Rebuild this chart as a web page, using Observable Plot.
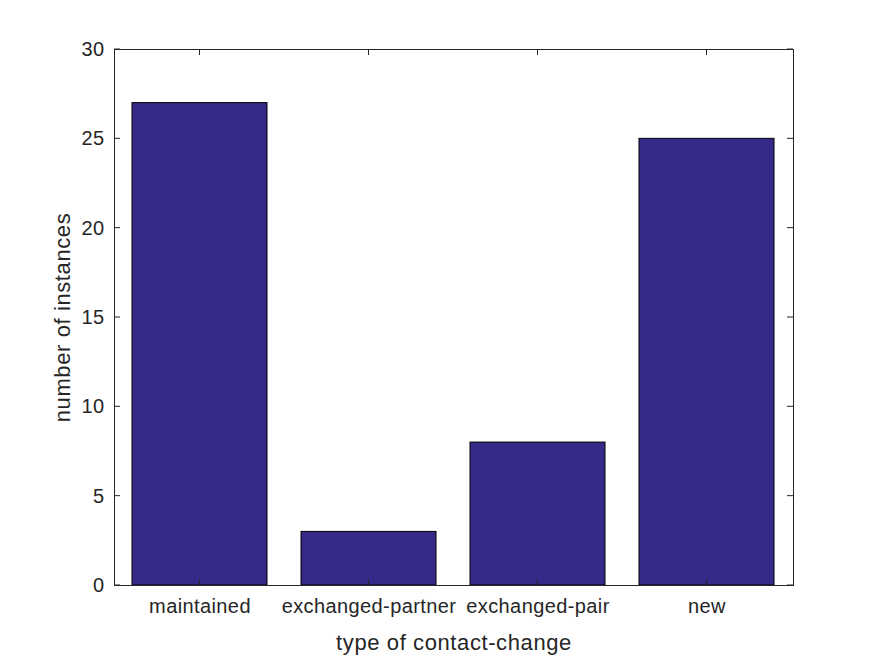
<!DOCTYPE html>
<html>
<head>
<meta charset="utf-8">
<script src="https://cdn.jsdelivr.net/npm/d3@7"></script>
<script src="https://cdn.jsdelivr.net/npm/@observablehq/plot@0.6"></script>
<style>
  html, body { margin: 0; padding: 0; background: #fff; }
  #chart { width: 875px; height: 656px; }
  g[aria-label="x-axis label"] text, g[aria-label="y-axis label"] text { letter-spacing: 0.6px; }
  g[aria-label="x-axis tick label"] text, g[aria-label="y-axis tick label"] text { letter-spacing: 0.4px; }
</style>
</head>
<body>
<div id="chart"></div>
<script>
const categories = ["maintained", "exchanged-partner", "exchanged-pair", "new"];
const counts = [27, 3, 8, 25];
const yTicks = [0, 5, 10, 15, 20, 25, 30];
const xLabel = "type of contact-change";
const yLabel = "number of instances";

(function () {
const data = categories.map((c, i) => ({category: c, count: counts[i]}));

const W = 875, H = 656;
const mL = 114, mR = 82, mT = 49, mB = 71;
const axisColor = "#262626";
const font = "'Liberation Sans', Arial, Helvetica, sans-serif";

const plot = Plot.plot({
  width: W,
  height: H,
  marginLeft: mL,
  marginRight: mR,
  marginTop: mT,
  marginBottom: mB,
  style: {fontFamily: font, fontSize: "20px", color: axisColor, background: "#fff"},
  x: {domain: categories, paddingInner: 0.2, paddingOuter: 0.1},
  y: {domain: [0, 30]},
  marks: [
    Plot.barY(data, {x: "category", y: "count", fill: "#352a87", stroke: "#000", strokeWidth: 1}),
    Plot.frame({stroke: axisColor, strokeWidth: 1}),
    Plot.axisY({ticks: yTicks, tickSize: 0, tickPadding: 10, fontSize: 20, label: null}),
    Plot.axisX({tickSize: 0, tickPadding: 13, fontSize: 20, label: null}),
    Plot.axisY({ticks: [], label: yLabel, labelAnchor: "center", labelArrow: "none", labelOffset: 60, fontSize: 22}),
    Plot.axisX({ticks: [], label: xLabel, labelAnchor: "center", labelArrow: "none", labelOffset: 64, fontSize: 22})
  ]
});

document.getElementById("chart").appendChild(plot);

// inward tick marks on all four sides, positioned via Plot's own scales
const xs = plot.scale("x"), ys = plot.scale("y");
const svg = d3.select(plot);
const xL = mL, xR = W - mR, yT = mT, yB = H - mB;
const tl = 6;
const g = svg.append("g").attr("stroke", axisColor).attr("stroke-width", 1);
yTicks.forEach(v => {
  const y = ys.apply(v);
  g.append("line").attr("x1", xL).attr("x2", xL + tl).attr("y1", y).attr("y2", y);
  g.append("line").attr("x1", xR).attr("x2", xR - tl).attr("y1", y).attr("y2", y);
});
categories.forEach(c => {
  const x = xs.apply(c) + xs.bandwidth / 2;
  g.append("line").attr("x1", x).attr("x2", x).attr("y1", yB).attr("y2", yB - tl);
  g.append("line").attr("x1", x).attr("x2", x).attr("y1", yT).attr("y2", yT + tl);
});
})();
</script>
</body>
</html>
